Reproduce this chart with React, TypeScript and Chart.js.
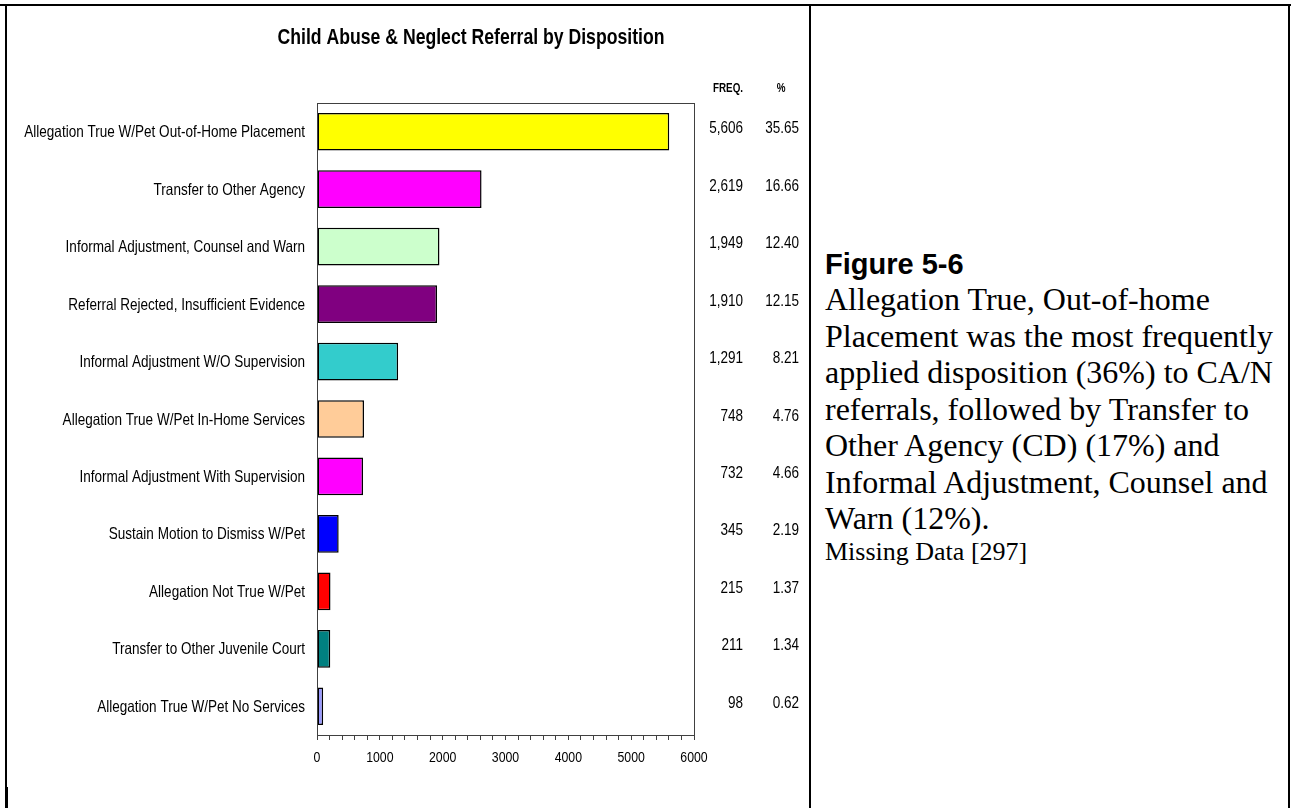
import React, { useEffect, useRef } from "react";
import { Chart, registerables } from "chart.js";

Chart.register(...registerables);

// ---- data ----
const chartTitle = "Child Abuse & Neglect Referral by Disposition";
const categories = [
  "Allegation True W/Pet Out-of-Home Placement",
  "Transfer to Other Agency",
  "Informal Adjustment, Counsel and Warn",
  "Referral Rejected, Insufficient Evidence",
  "Informal Adjustment W/O Supervision",
  "Allegation True W/Pet In-Home Services",
  "Informal Adjustment With Supervision",
  "Sustain Motion to Dismiss W/Pet",
  "Allegation Not True W/Pet",
  "Transfer to Other Juvenile Court",
  "Allegation True W/Pet No Services",
];
const frequencies = [5606, 2619, 1949, 1910, 1291, 748, 732, 345, 215, 211, 98];
const percents = [35.65, 16.66, 12.4, 12.15, 8.21, 4.76, 4.66, 2.19, 1.37, 1.34, 0.62];
const barColors = [
  "#FFFF00",
  "#FF00FF",
  "#CCFFCC",
  "#800080",
  "#33CCCC",
  "#FFCC99",
  "#FF00FF",
  "#0000FF",
  "#FF0000",
  "#008080",
  "#9999FF",
];
const columnHeaders = ["FREQ.", "%"];
const axisMin = 0;
const axisMax = 6000;
const minorStep = 200;
const majorStep = 1000;

const figureLabel = "Figure 5-6";
const captionLines = [
  "Allegation True, Out-of-home",
  "Placement was the most frequently",
  "applied disposition (36%) to CA/N",
  "referrals, followed by Transfer to",
  "Other Agency (CD) (17%) and",
  "Informal Adjustment, Counsel and",
  "Warn (12%).",
];
const missingNote = "Missing Data [297]";

// ---- styling ----
// No condensed face is installed, so chart text is drawn in Liberation Sans
// squeezed horizontally to a narrow width.
const CHART_FONT = '"Liberation Sans", Arial, sans-serif';
const CONDENSE = 0.82;
const SANS = '"Liberation Sans", Arial, sans-serif';
const SERIF = '"Liberation Serif", "Times New Roman", serif';
const AXIS_GREY = "#404040";
const HIDDEN = "rgba(0,0,0,0)";

const CANVAS_W = 809;
const CANVAS_H = 808;

function condensedText(
  ctx: CanvasRenderingContext2D,
  text: string,
  x: number,
  y: number,
  align: CanvasTextAlign,
  font: string
) {
  ctx.save();
  ctx.translate(x, y);
  ctx.scale(CONDENSE, 1);
  ctx.font = font;
  ctx.textAlign = align;
  ctx.textBaseline = "middle";
  ctx.fillStyle = "#000";
  ctx.fillText(text, 0, 0);
  ctx.restore();
}

// Title, axis labels, column headings, FREQ/% values and the plot frame.
const tablePlugin = {
  id: "dispositionTable",
  afterDraw(chart: any) {
    const { ctx, chartArea } = chart;
    const xScale = chart.scales.x;
    const yScale = chart.scales.y;
    ctx.save();

    ctx.strokeStyle = AXIS_GREY;
    ctx.lineWidth = 1;
    ctx.strokeRect(
      Math.round(chartArea.left) + 0.5,
      Math.round(chartArea.top) + 0.5,
      Math.round(chartArea.right - chartArea.left),
      Math.round(chartArea.bottom - chartArea.top)
    );

    condensedText(ctx, chartTitle, 471, 38, "center", `bold 21.5px ${CHART_FONT}`);
    condensedText(ctx, columnHeaders[0], 728, 89, "center", `bold 12px ${CHART_FONT}`);
    condensedText(ctx, columnHeaders[1], 781, 89, "center", `bold 12px ${CHART_FONT}`);

    const rowFont = `16.5px ${CHART_FONT}`;
    categories.forEach((c, i) => {
      const py = yScale.getPixelForValue(i);
      condensedText(ctx, c, chartArea.left - 12, py + 1, "right", rowFont);
      condensedText(ctx, frequencies[i].toLocaleString("en-US"), 743, py - 3, "right", rowFont);
      condensedText(ctx, percents[i].toFixed(2), 799, py - 3, "right", rowFont);
    });

    for (let v = axisMin; v <= axisMax; v += majorStep) {
      condensedText(ctx, String(v), xScale.getPixelForValue(v), chartArea.bottom + 23, "center", `15px ${CHART_FONT}`);
    }

    ctx.restore();
  },
};

function DispositionChart() {
  const ref = useRef<HTMLCanvasElement | null>(null);

  useEffect(() => {
    if (!ref.current) return;
    const chart = new Chart(ref.current, {
      type: "bar",
      data: {
        labels: categories,
        datasets: [
          {
            data: frequencies,
            backgroundColor: barColors,
            borderColor: "#000000",
            borderWidth: 1.5,
            borderSkipped: false,
            categoryPercentage: 1,
            barPercentage: 0.656,
          },
        ],
      },
      options: {
        indexAxis: "y",
        animation: false,
        responsive: false,
        devicePixelRatio: 1,
        events: [],
        layout: { padding: { left: 0, right: CANVAS_W - 694, top: 103, bottom: 0 } },
        plugins: {
          legend: { display: false },
          tooltip: { enabled: false },
          title: { display: false },
        },
        scales: {
          x: {
            type: "linear",
            min: axisMin,
            max: axisMax,
            afterFit: (scale: any) => {
              scale.height = 73;
            },
            grid: {
              display: true,
              drawOnChartArea: false,
              drawTicks: true,
              tickLength: 5,
              color: AXIS_GREY,
            },
            border: { display: true, color: AXIS_GREY },
            ticks: {
              stepSize: minorStep,
              autoSkip: false,
              maxRotation: 0,
              color: HIDDEN,
              font: { family: CHART_FONT, size: 15 },
              callback: (v: any) => (Number(v) % majorStep === 0 ? String(v) : ""),
            },
          },
          y: {
            type: "category",
            afterFit: (scale: any) => {
              scale.width = 317;
            },
            grid: { display: false, drawTicks: false },
            border: { display: true, color: AXIS_GREY },
            ticks: {
              color: HIDDEN,
              autoSkip: false,
              font: { family: CHART_FONT, size: 16.5 },
            },
          },
        },
      },
      plugins: [tablePlugin],
    } as any);
    return () => chart.destroy();
  }, []);

  return (
    <canvas
      ref={ref}
      width={CANVAS_W}
      height={CANVAS_H}
      style={{ position: "absolute", left: 0, top: 0, width: CANVAS_W, height: CANVAS_H }}
    />
  );
}

function Rule(props: { left: number; top: number; width: number; height: number }) {
  return (
    <div
      style={{
        position: "absolute",
        background: "#000",
        left: props.left,
        top: props.top,
        width: props.width,
        height: props.height,
        zIndex: 2,
      }}
    />
  );
}

export default function App() {
  return (
    <div
      style={{
        position: "fixed",
        left: 0,
        top: 0,
        width: 1291,
        height: 808,
        background: "#fff",
        overflow: "hidden",
      }}
    >
      <DispositionChart />

      {/* table rules */}
      <Rule left={0} top={4} width={1291} height={2} />
      <Rule left={5} top={4} width={2} height={804} />
      <Rule left={5} top={787} width={3} height={21} />
      <Rule left={809} top={4} width={2} height={804} />
      <Rule left={1288} top={4} width={2} height={804} />

      {/* caption cell */}
      <div style={{ position: "absolute", left: 825, top: 248, whiteSpace: "nowrap", color: "#000" }}>
        <div style={{ fontFamily: SANS, fontWeight: "bold", fontSize: 29, lineHeight: "33px" }}>
          {figureLabel}
        </div>
        <div style={{ fontFamily: SERIF, fontSize: 32, lineHeight: "36.5px" }}>
          {captionLines.map((line) => (
            <div key={line}>{line}</div>
          ))}
        </div>
        <div style={{ fontFamily: SERIF, fontSize: 26, lineHeight: "30px" }}>{missingNote}</div>
      </div>
    </div>
  );
}
